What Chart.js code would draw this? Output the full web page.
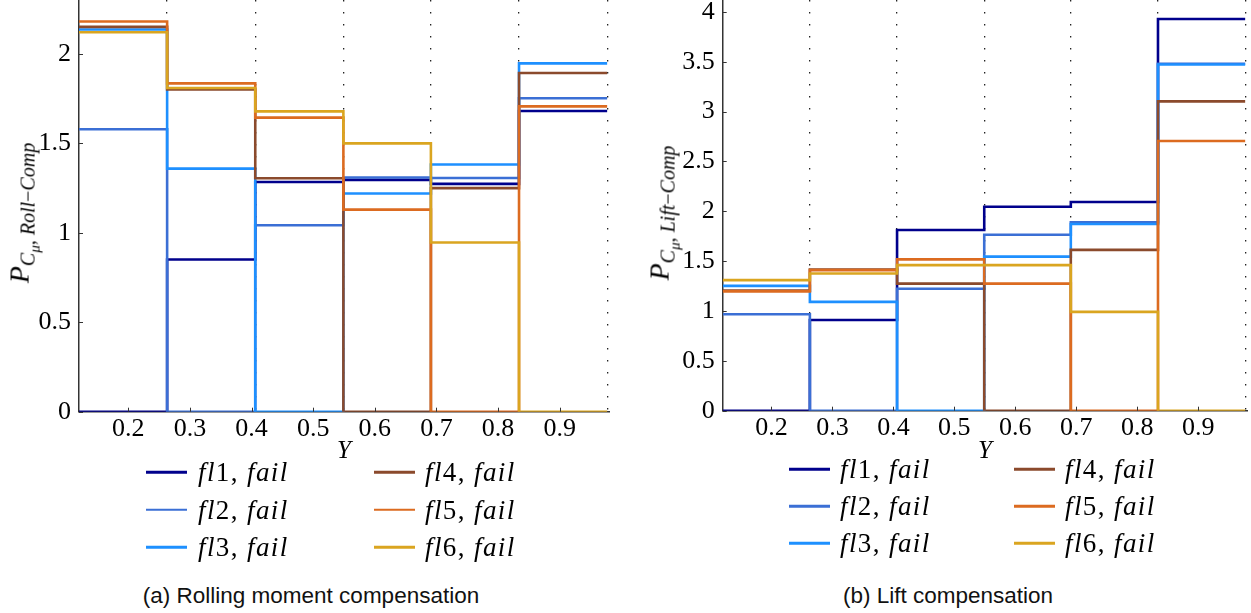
<!DOCTYPE html>
<html>
<head>
<meta charset="utf-8">
<script src="https://cdn.jsdelivr.net/npm/chart.js@4.4.1/dist/chart.umd.min.js"></script>
<style>
html,body{margin:0;padding:0;background:#fff;width:1251px;height:613px;overflow:hidden;position:relative;}
canvas{position:absolute;top:0;}
#cA{left:0;}
#cB{left:640px;}
.ytitle{position:absolute;white-space:nowrap;transform:translate(-50%,-50%) rotate(-90deg);font-family:"Liberation Serif","DejaVu Serif",serif;font-weight:normal;font-size:28px;line-height:1;color:#000;}
.ytitle sub{font-size:20px;vertical-align:-0.32em;}
.ytitle sub sub{font-size:15px;vertical-align:-0.3em;}
.legitem{position:absolute;height:0;}
.legline{position:absolute;width:41px;height:2.5px;transform:translateY(-50%);}
.legtext{position:absolute;transform:translateY(-50%);white-space:nowrap;font-family:"Liberation Serif","DejaVu Serif",serif;font-size:27px;letter-spacing:1.4px;line-height:1;color:#000;}
.legtext i{font-style:italic;}
.caption{position:absolute;white-space:nowrap;transform:translate(-50%,-50%);font-family:"Liberation Sans",Arial,sans-serif;font-size:22.5px;color:#111;}
</style>
</head>
<body>
<canvas id="cA" width="625" height="470"></canvas>
<canvas id="cB" width="611" height="470"></canvas>
<div class="ytitle" id="ytA" style="left:24px;top:213px;"><i>P</i><sub><i>C</i><sub><i>μ</i></sub>, <i>Roll</i>−<i>Comp</i></sub></div>
<div class="ytitle" id="ytB" style="left:664px;top:213px;"><i>P</i><sub><i>C</i><sub><i>μ</i></sub>, <i>Lift</i>−<i>Comp</i></sub></div>
<div class="caption" style="left:311px;top:596px;">(a) Rolling moment compensation</div>
<div class="caption" style="left:948px;top:596px;">(b) Lift compensation</div>
<script>
// ---------- data ----------
const binEdges = [0.12, 0.263, 0.406, 0.549, 0.691, 0.834, 0.977];
const xTicks = [0.2, 0.3, 0.4, 0.5, 0.6, 0.7, 0.8, 0.9];
const yTicksRoll = [0, 0.5, 1, 1.5, 2];
const yTicksLift = [0, 0.5, 1, 1.5, 2, 2.5, 3, 3.5, 4];
const seriesNames = ['fl1', 'fl2', 'fl3', 'fl4', 'fl5', 'fl6'];
const seriesState = 'fail';
const xTitle = 'Y';

// Rolling moment compensation (one value per bin)
const rollFl1 = [0, 0.850, 1.283, 1.295, 1.273, 1.680];
const rollFl2 = [1.578, 0, 1.042, 1.308, 1.306, 1.751];
const rollFl3 = [2.135, 1.358, 0, 1.219, 1.381, 1.946];
const rollFl4 = [2.150, 1.800, 1.304, 0, 1.249, 1.892];
const rollFl5 = [2.180, 1.834, 1.643, 1.129, 0, 1.706];
const rollFl6 = [2.120, 1.808, 1.678, 1.499, 0.945, 0];

// Lift compensation
const liftFl1 = [0, 0.910, 1.812, 2.046, 2.093, 3.929];
const liftFl2 = [0.967, 0, 1.224, 1.765, 1.890, 3.480];
const liftFl3 = [1.252, 1.092, 0, 1.546, 1.873, 3.473];
const liftFl4 = [1.205, 1.417, 1.275, 0, 1.613, 3.103];
const liftFl5 = [1.197, 1.410, 1.518, 1.275, 0, 2.705];
const liftFl6 = [1.310, 1.376, 1.460, 1.460, 0.991, 0];

// ---------- styles ----------
const colors = ['#00008c', '#3b6fd5', '#1e90ff', '#8b4a2c', '#dc6b20', '#daa520'];
const SERIF = '"Liberation Serif", "DejaVu Serif", serif';

function stepPoints(vals) {
  const pts = vals.map((v, i) => ({x: binEdges[i], y: v}));
  pts.push({x: binEdges[binEdges.length - 1], y: vals[vals.length - 1]});
  return pts;
}

const inwardTicks = {
  id: 'inwardTicks',
  afterDraw(chart) {
    const ctx = chart.ctx;
    const xs = chart.scales.x, ys = chart.scales.y;
    ctx.save();
    ctx.strokeStyle = '#333';
    ctx.lineWidth = 1;
    xs.ticks.forEach(t => {
      const px = Math.round(xs.getPixelForValue(t.value)) + 0.5;
      ctx.beginPath(); ctx.moveTo(px, xs.top); ctx.lineTo(px, xs.top - 4); ctx.stroke();
    });
    ys.ticks.forEach(t => {
      const py = Math.round(ys.getPixelForValue(t.value)) + 0.5;
      ctx.beginPath(); ctx.moveTo(ys.right, py); ctx.lineTo(ys.right + 4, py); ctx.stroke();
    });
    ctx.restore();
  }
};

function makeChart(id, seriesVals, yMax, yTicks, yAxisWidth, xAxisHeight, padRight) {
  const datasets = seriesVals.map((vals, i) => ({
    label: seriesNames[i] + ', ' + seriesState,
    data: stepPoints(vals),
    borderColor: colors[i],
    backgroundColor: colors[i],
    borderWidth: 2.6,
    pointRadius: 0,
    stepped: 'before',
    fill: false,
    order: seriesVals.length - i
  }));
  return new Chart(document.getElementById(id), {
    type: 'line',
    data: {datasets},
    options: {
      responsive: false,
      animation: false,
      devicePixelRatio: 1,
      layout: {padding: {left: 0, top: 0, right: padRight, bottom: 0}},
      plugins: {legend: {display: false}, tooltip: {enabled: false}},
      scales: {
        x: {
          type: 'linear', position: 'bottom', min: binEdges[0], max: 0.98,
          afterBuildTicks: s => { s.ticks = xTicks.map(v => ({value: v})); },
          afterFit: s => { s.height = xAxisHeight; s.paddingLeft = 0; s.paddingRight = 0; },
          grid: {display: false, drawTicks: false},
          border: {display: true, color: '#333', width: 1.5},
          ticks: {color: '#000', font: {family: SERIF, size: 26}, padding: 2, maxRotation: 0,
                  callback: v => String(v)},
          title: {display: true, text: xTitle, color: '#000',
                  font: {family: SERIF, size: 25, style: 'italic'}, padding: {top: 0, bottom: 4}}
        },
        xb: {
          type: 'linear', position: 'bottom', min: binEdges[0], max: 0.98,
          afterBuildTicks: s => { s.ticks = binEdges.slice(1).map(v => ({value: v})); },
          afterFit: s => { s.height = 0; s.paddingLeft = 0; s.paddingRight = 0; },
          ticks: {display: false},
          border: {display: false, dash: [1.4, 10.6]},
          grid: {display: true, drawTicks: false, color: '#222', lineWidth: 1.3}
        },
        y: {
          type: 'linear', min: 0, max: yMax,
          afterBuildTicks: s => { s.ticks = yTicks.map(v => ({value: v})); },
          afterFit: s => { s.width = yAxisWidth; s.paddingTop = 0; s.paddingBottom = 0; },
          grid: {display: false, drawTicks: false},
          border: {display: true, color: '#333', width: 1.5},
          ticks: {color: '#000', font: {family: SERIF, size: 26}, padding: 8,
                  callback: v => String(v)}
        }
      }
    },
    plugins: [inwardTicks]
  });
}

const chartA = makeChart('cA', [rollFl1, rollFl2, rollFl3, rollFl4, rollFl5, rollFl6], 2.3, yTicksRoll, 79, 58.3, 16);
const chartB = makeChart('cB', [liftFl1, liftFl2, liftFl3, liftFl4, liftFl5, liftFl6], 4.12, yTicksLift, 82.7, 59.3, 4);

// ---------- HTML legends built from the chart datasets ----------
function buildLegend(chart, cols, rows) {
  chart.data.datasets.forEach((ds, i) => {
    const c = Math.floor(i / rows.length), r = i % rows.length;
    const item = document.createElement('div');
    item.className = 'legitem';
    item.style.left = cols[c].line + 'px';
    item.style.top = rows[r] + 'px';
    const ln = document.createElement('div');
    ln.className = 'legline';
    ln.style.left = '0px';
    ln.style.background = ds.borderColor;
    const tx = document.createElement('div');
    tx.className = 'legtext';
    tx.style.left = (cols[c].text - cols[c].line) + 'px';
    const parts = ds.label.split(', ');
    const m = parts[0].match(/^([a-z]+)(\d+)$/);
    tx.innerHTML = '<i>' + m[1] + '</i>' + m[2] + ', <i>' + parts[1] + '</i>';
    item.appendChild(ln); item.appendChild(tx);
    document.body.appendChild(item);
  });
}
buildLegend(chartA, [{line: 146, text: 198}, {line: 374, text: 425}], [472, 509.5, 547]);
buildLegend(chartB, [{line: 789, text: 840}, {line: 1014, text: 1065}], [469, 506, 543]);
</script>
</body>
</html>
